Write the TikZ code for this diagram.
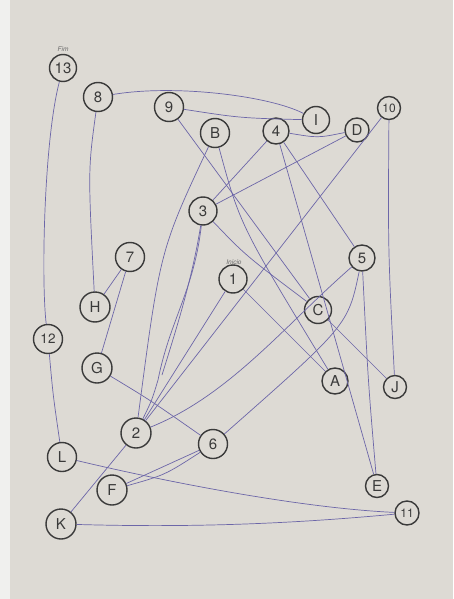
\documentclass[tikz,border=0pt]{standalone}
\usepackage{fontspec}
\setmainfont{TeX Gyre Heros}
\definecolor{paper}{RGB}{221,218,212}
\definecolor{paperlight}{RGB}{240,240,238}
\definecolor{pen}{RGB}{108,102,168}
\definecolor{ink}{RGB}{58,58,58}
\begin{document}
\begin{tikzpicture}[x=1pt,y=-1pt,
  nd/.style={circle,draw=ink,line width=1.4pt,inner sep=0pt,minimum size=#1,text=ink,font=\fontsize{15}{15}\selectfont},
  nd/.default=29pt,
  ln/.style={draw=pen,line width=0.7pt},
  tag/.style={text=ink!75,font=\fontsize{6.5}{6.5}\itshape}]
\fill[paper] (0,0) rectangle (453,599);
\fill[paperlight] (0,0) rectangle (10,599);
\useasboundingbox (0,0) rectangle (453,599);
% nodes
\node[nd=27pt] (n13) at (63,68) {13};
\node[nd] (n8) at (98,97) {8};
\node[nd] (n9) at (169,107) {9};
\node[nd] (nB) at (215,133) {B};
\node[nd=26pt] (n4) at (276,131) {4};
\node[nd=27pt] (nI) at (316,120) {I};
\node[nd=24pt] (nD) at (357,130) {D};
\node[nd=23pt,font=\fontsize{12}{12}\selectfont] (n10) at (389,108) {10};
\node[nd=28pt] (n3) at (203,211) {3};
\node[nd] (n7) at (130,257) {7};
\node[nd=26pt] (n5) at (362,258) {5};
\node[nd=28pt] (n1) at (233,279) {1};
\node[nd=30pt] (nH) at (95,307) {H};
\node[nd=27pt] (nC) at (318,310) {C};
\node[nd,font=\fontsize{13.5}{13.5}\selectfont] (n12) at (48,339) {12};
\node[nd=30pt] (nG) at (97,368) {G};
\node[nd=26pt] (nA) at (335,381) {A};
\node[nd=23pt] (nJ) at (395,387) {J};
\node[nd=30pt] (n2) at (136,433) {2};
\node[nd] (n6) at (213,444) {6};
\node[nd] (nL) at (62,457) {L};
\node[nd=30pt] (nF) at (112,490) {F};
\node[nd=23pt] (nE) at (377,486) {E};
\node[nd=24pt,font=\fontsize{12}{12}\selectfont] (n11) at (407,513) {11};
\node[nd=30pt] (nK) at (61,524) {K};
\node[tag] (fim) at (63,49) {Fim};
\node[tag] (ini) at (234,262) {Inicio};
% connectors
\draw[ln] (n13) .. controls (44,140) and (41,280) .. (n12);
\draw[ln] (n12) .. controls (53,395) .. (nL);
\draw[ln] (nL) .. controls (167,482) and (300,508) .. (n11);
\draw[ln] (nK) .. controls (200,528) and (300,523) .. (n11);
\draw[ln] (nK) -- (n2);
\draw[ln] (n8) .. controls (88,170) .. (nH);
\draw[ln] (n8) .. controls (175,84) and (270,96) .. (nI);
\draw[ln] (n9) .. controls (240,118) .. (nI);
\draw[ln] (n9) -- (nC);
\draw[ln] (nB) .. controls (240,225) .. (nA);
\draw[ln] (nB) .. controls (160,250) .. (n2);
\draw[ln] (n3) .. controls (194,290) and (170,320) .. (158,380) .. controls (152,400) .. (n2);
\draw[ln] (n3) .. controls (192,280) and (176,330) .. (162,375);
\draw[ln] (n1) -- (n2);
\draw[ln] (n10) -- (n2);
\draw[ln] (n1) -- (nA);
\draw[ln] (n4) -- (n3);
\draw[ln] (nD) -- (n3);
\draw[ln] (n4) .. controls (318,138) .. (nD);
\draw[ln] (n4) -- (n5);
\draw[ln] (n4) -- (nE);
\draw[ln] (n5) .. controls (368,380) .. (nE);
\draw[ln] (n10) .. controls (388,250) .. (nJ);
\draw[ln] (nC) -- (nJ);
\draw[ln] (n3) .. controls (245,255) .. (nC);
\draw[ln] (n2) .. controls (230,395) and (285,325) .. (n5);
\draw[ln] (n5) .. controls (348,325) .. (n6);
\draw[ln] (nF) -- (n6);
\draw[ln] (nF) .. controls (165,475) .. (n6);
\draw[ln] (nG) .. controls (150,400) .. (n6);
\draw[ln] (n7) -- (nG);
\draw[ln] (n7) -- (nH);
\end{tikzpicture}
\end{document}
